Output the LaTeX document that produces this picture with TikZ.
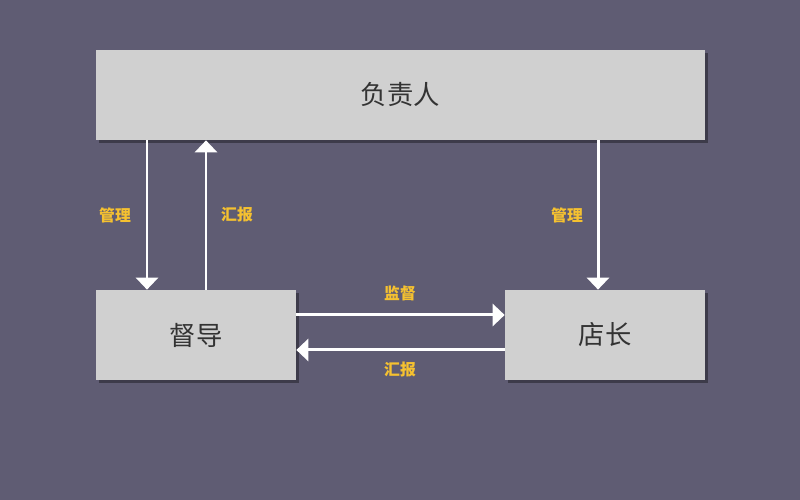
\documentclass[tikz,border=0pt]{standalone}
\usepackage{fontspec}
\setmainfont{Noto Sans CJK SC}
\usetikzlibrary{shadows,arrows.meta}
\definecolor{bgcol}{HTML}{5F5C73}
\definecolor{boxcol}{HTML}{D0D0D0}
\definecolor{textcol}{HTML}{333333}
\definecolor{labelcol}{HTML}{F5C130}
\tikzset{
    box/.style={
           rectangle,
           fill=boxcol,
           drop shadow={shadow xshift=0.06cm, shadow yshift=-0.06cm, fill=black, opacity=0.35},
           text=textcol,
           font=\fontsize{15pt}{18pt}\selectfont,
           inner sep=0pt,
           text centered,
           },
    flow/.style={
           draw=white,
           line width=1.7pt,
           -{Triangle[width=0.44cm,length=0.24cm]},
           },
    tag/.style={
           text=labelcol,
           font=\fontsize{9pt}{11pt}\selectfont\bfseries,
           },
}

\begin{document}
\begin{tikzpicture}
    % background
    \fill[bgcol] (0,0) rectangle (16,10);
    \useasboundingbox (0,0) rectangle (16,10);

    % boxes
    \node[box, minimum width=12.18cm, minimum height=1.8cm] (fuzeren) at (8.01,8.1) {负责人};
    \node[box, minimum width=4cm, minimum height=1.8cm] (dudao) at (3.92,3.3) {督导};
    \node[box, minimum width=4cm, minimum height=1.8cm] (dianzhang) at (12.1,3.3) {店长};

    % arrows between boxes
    \draw[flow] ([xshift=-0.98cm]dudao.north |- fuzeren.south) -- ([xshift=-0.98cm]dudao.north);
    \draw[flow] ([xshift=0.2cm]dudao.north) -- ([xshift=0.2cm]dudao.north |- fuzeren.south);
    \draw[flow] ([xshift=-0.14cm]dianzhang.north |- fuzeren.south) -- ([xshift=-0.14cm]dianzhang.north);
    \draw[flow] ([yshift=0.4cm]dudao.east) -- ([yshift=0.4cm]dianzhang.west);
    \draw[flow] ([yshift=-0.3cm]dianzhang.west) -- ([yshift=-0.3cm]dudao.east);

    % labels
    \node[tag] (guanli1) at (2.3,5.7) {管理};
    \node[tag] (huibao1) at (4.74,5.7) {汇报};
    \node[tag] (guanli2) at (11.34,5.7) {管理};
    \node[tag] (jiandu) at (8,4.14) {监督};
    \node[tag] (huibao2) at (8,2.6) {汇报};
\end{tikzpicture}
\end{document}
